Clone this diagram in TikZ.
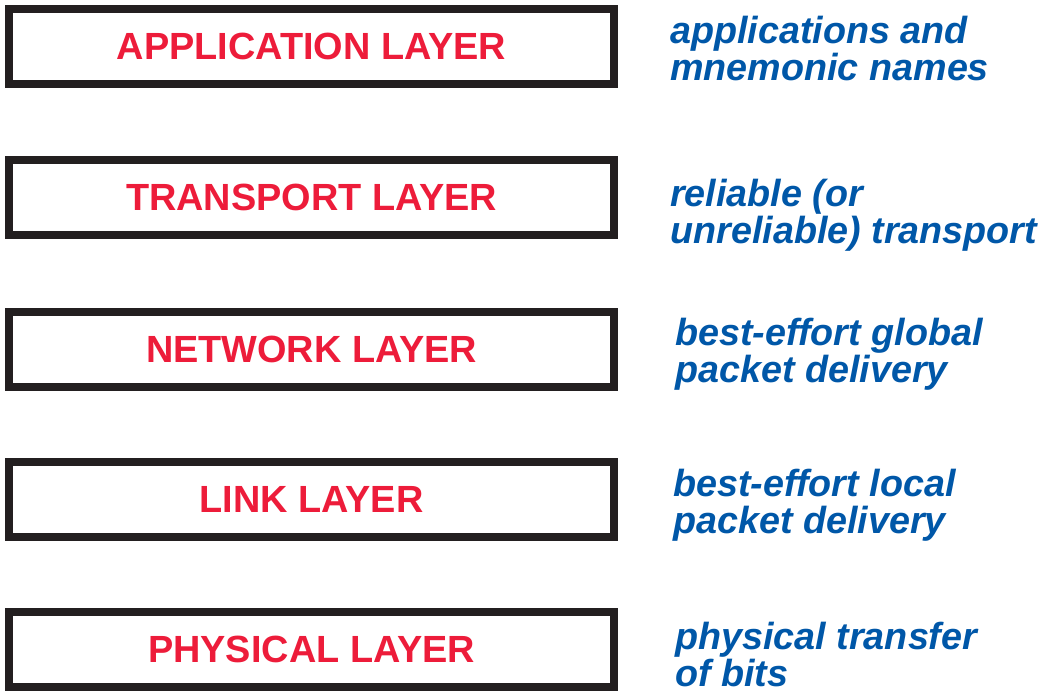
\documentclass[tikz,border=0pt]{standalone}
\usepackage{fontspec}
\setmainfont{Liberation Sans}
\definecolor{layerred}{HTML}{ED1C3A}
\definecolor{descblue}{HTML}{0057A8}
\definecolor{frameblack}{HTML}{231F20}
\begin{document}
\begin{tikzpicture}[x=0.75pt,y=-0.75pt,
  layerbox/.style={draw=frameblack, line width=6pt, fill=white,
    minimum width=453.75pt, minimum height=56.25pt, inner sep=0pt,
    text=layerred, font=\fontsize{28.4}{30}\selectfont\bfseries},
  desc/.style={anchor=base west, align=left, inner sep=0pt,
    text=descblue, font=\fontsize{28.3}{27.5}\selectfont\bfseries\itshape}]
  \useasboundingbox (0,0) rectangle (1042,690);

  % protocol layers, top to bottom
  \node[layerbox] (app)  at (311.5, 46.5)  {APPLICATION LAYER};
  \node[layerbox] (tra)  at (311.5, 197.5) {TRANSPORT LAYER};
  \node[layerbox] (net)  at (311.5, 349.5) {NETWORK LAYER};
  \node[layerbox] (lnk)  at (311.5, 499.5) {LINK LAYER};
  \node[layerbox] (phy)  at (311.5, 649.5) {PHYSICAL LAYER};

  % service provided by each layer (anchored on the last line's baseline)
  \node[desc] (dapp) at (670, 80)  {applications and\\mnemonic names};
  \node[desc] (dtra) at (670, 243) {reliable (or\\unreliable) transport};
  \node[desc] (dnet) at (675, 382) {best-effort global\\packet delivery};
  \node[desc] (dlnk) at (673, 533) {best-effort local\\packet delivery};
  \node[desc] (dphy) at (675, 686) {physical transfer\\of bits};
\end{tikzpicture}
\end{document}
